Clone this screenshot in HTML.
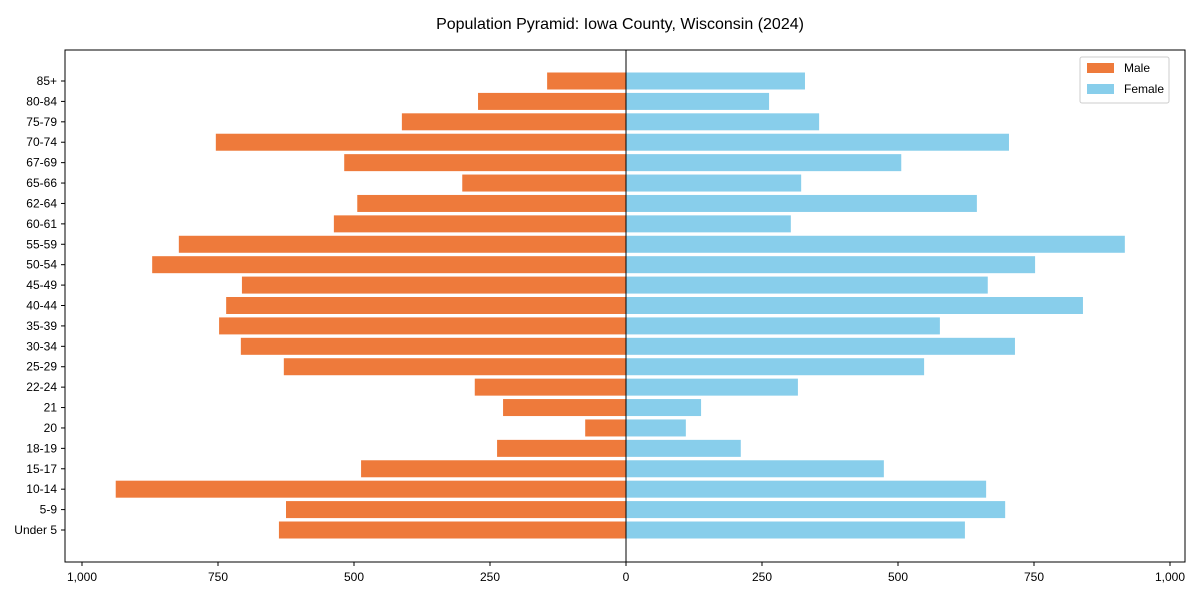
<!DOCTYPE html>
<html><head><meta charset="utf-8"><style>
body{margin:0;background:#fff;font-family:"Liberation Sans",Arial,sans-serif;}
svg text{font-family:"Liberation Sans",Arial,sans-serif;}
</style></head><body>
<svg id="chart" width="1200" height="600">
<text x="620" y="29" text-anchor="middle" font-size="16">Population Pyramid: Iowa County, Wisconsin (2024)</text>
<rect x="65" y="50" width="1120" height="512" fill="none" stroke="#000" stroke-width="1"/>
<g id="bars"></g><g id="axes"></g>
<g>
<rect x="1080" y="57" width="89" height="46" fill="#fff" stroke="#ccc" rx="2"/>
<rect x="1087" y="63" width="27" height="10" fill="#ee7a3b"/>
<text x="1124" y="72" font-size="12">Male</text>
<rect x="1087" y="84" width="27" height="10" fill="#88ceeb"/>
<text x="1124" y="93" font-size="12">Female</text>
</g>
</svg>
<script>
const categories=["85+","80-84","75-79","70-74","67-69","65-66","62-64","60-61","55-59","50-54","45-49","40-44","35-39","30-34","25-29","22-24","21","20","18-19","15-17","10-14","5-9","Under 5"];
const maleValues=[145,272,412,754,518,301,494,537,822,871,706,735,748,708,629,278,226,75,237,487,938,625,638];
const femaleValues=[329,263,355,704,506,322,645,303,917,752,665,840,577,715,548,316,138,110,211,474,662,697,623];
const tickValues=[-1000,-750,-500,-250,0,250,500,750,1000];
const tickLabels=["1,000","750","500","250","0","250","500","750","1,000"];
const NS="http://www.w3.org/2000/svg";
const x=v=>626+v*0.544;
const y=i=>81+i*(530-81)/(categories.length-1);
const bh=17;
const bars=document.getElementById('bars'),axes=document.getElementById('axes');
function mk(tag,attrs,parent){const e=document.createElementNS(NS,tag);for(const k in attrs)e.setAttribute(k,attrs[k]);parent.appendChild(e);return e;}
categories.forEach((c,i)=>{
 const m=mk('rect',{x:x(-maleValues[i]),y:y(i)-bh/2,width:x(0)-x(-maleValues[i]),height:bh,fill:'#ee7a3b'},bars);
 
 
 const f=mk('rect',{x:x(0),y:y(i)-bh/2,width:x(femaleValues[i])-x(0),height:bh,fill:'#88ceeb'},bars);
 
 
 mk('line',{x1:61,x2:65,y1:y(i),y2:y(i),stroke:'#000'},axes);
 const t=mk('text',{x:57,y:y(i)+4,'text-anchor':'end','font-size':12},axes);
 t.textContent=c;
 
 
});
const zl=mk('line',{x1:x(0),x2:x(0),y1:50,y2:562,stroke:'#000','stroke-width':1},axes);


tickValues.forEach((v,i)=>{
 mk('line',{x1:x(v),x2:x(v),y1:562,y2:566,stroke:'#000'},axes);
 const t=mk('text',{x:x(v),y:581,'text-anchor':'middle','font-size':12},axes);
 t.textContent=tickLabels[i];
 
 
});
</script>
</body></html>
